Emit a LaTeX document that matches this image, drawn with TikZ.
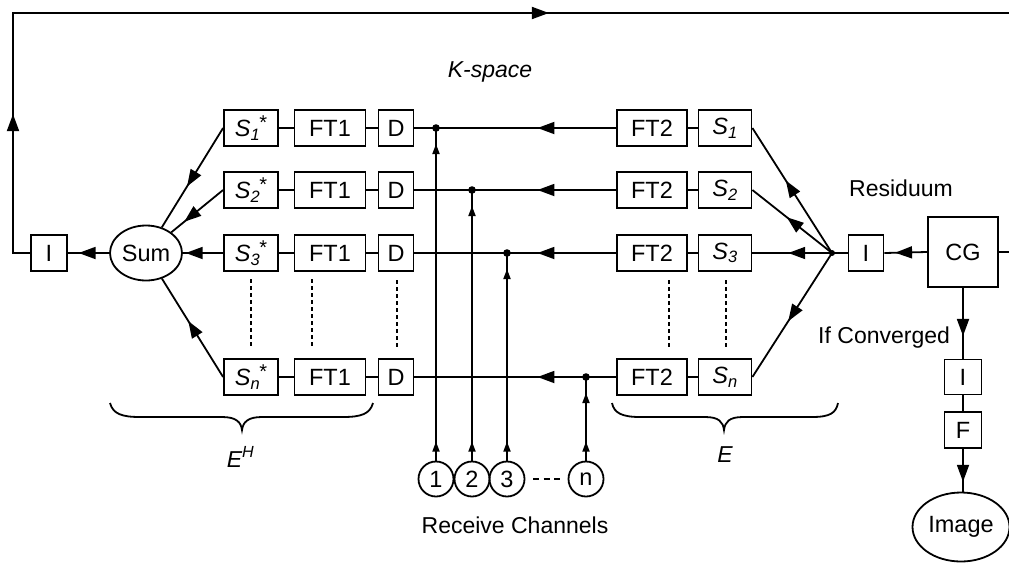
\documentclass[tikz,border=0pt]{standalone}
\usepackage{fontspec}
\setmainfont{Liberation Sans}
\usetikzlibrary{arrows.meta,decorations.markings,shapes.geometric}
\tikzset{
  box/.style={draw,rectangle,minimum width=#1,minimum height=36pt,inner sep=0pt},
  box/.default=36pt,
  oval/.style={draw,ellipse,inner sep=0pt},
  chan/.style={draw,circle,minimum size=35pt,inner sep=0pt},
  marr/.style={postaction={decorate},decoration={markings,mark=at position #1 with {\arrow{Triangle[length=17pt,width=12pt]}}}},
  charr/.style={postaction={decorate},decoration={markings,
      mark=at position 19pt with {\arrow{Triangle[length=10pt,width=7pt]}},
      mark=at position -16pt with {\arrow{Triangle[length=10pt,width=7pt]}}}},
  dsh/.style={line width=1.2pt,dash pattern=on 4pt off 3pt},
  lbl/.style={font=\fontsize{23}{27}\selectfont},
}
\newcommand{\stm}{\raisebox{0.55ex}{\normalfont\fontsize{20}{20}\selectfont *}}
\begin{document}
\begin{tikzpicture}[x=1pt,y=-1pt,line width=1.8pt,
  every node/.style={font=\fontsize{23.5}{27}\selectfont}]
\useasboundingbox (0,0) rectangle (1009,563);

% ---- left (E^H) column and right (E) column
\foreach \r/\y in {1/128,2/190,3/253,n/377}{
  \node[box=54pt] (Sc\r) at (251,\y) {\itshape S\textsubscript{\r}\kern-1pt\stm};
  \node[box=71pt] (FTa\r) at (330,\y) {FT1};
  \node[box=35pt] (D\r) at (396,\y) {D};
  \node[box=70pt] (FTb\r) at (652,\y) {FT2};
  \node[box=53pt] (S\r) at (725,\y) {\itshape S\textsubscript{\r}};
  \draw (Sc\r.east) -- (FTa\r.west);
  \draw (FTa\r.east) -- (D\r.west);
  \draw (FTb\r.east) -- (S\r.west);
  \draw[marr=0.39] (FTb\r.west) -- (D\r.east);
}

% dashed continuation lines
\draw[dsh] (251,279) -- (251,346);
\draw[dsh] (312,279) -- (312,346);
\draw[dsh] (397,280) -- (397,347);
\draw[dsh] (669,280) -- (669,347);
\draw[dsh] (726,280) -- (726,347);

% Sum and left I
\node[oval,minimum width=72pt,minimum height=55pt] (Sum) at (146,253) {Sum};
\node[box=36pt] (Il) at (49,253) {I};
\draw[marr=0.74] (Sum.west) -- (Il.east);
\draw[marr=0.93] (Sc3.west) -- (Sum.east);
\draw[marr=0.59] (Sc1.west) -- (Sum);
\draw[marr=0.75] (Sc2.west) -- (Sum);
\draw[marr=0.57] (Scn.west) -- (Sum);

% right side: fan, I, CG
\coordinate (fan) at (832,253);
\fill (fan) circle (3pt);
\node[box=35pt] (Ir) at (866,253) {I};
\node[box=70pt,minimum height=70pt] (CG) at (963,252) {CG};
\draw[marr=0.75] (CG.west) -- (Ir.east);
\draw (Ir.west) -- (fan);
\draw[marr=0.58] (fan) -- (S1.east);
\draw[marr=0.57] (fan) -- (S2.east);
\draw[marr=0.55] (fan) -- (S3.east);
\draw[marr=0.55] (fan) -- (Sn.east);

% feedback loop
\coordinate (lb) at (13,253);
\coordinate (lt) at (13,13);
\coordinate (rt) at (1009,13);
\coordinate (re) at (1009,252);
\draw[postaction={decorate},decoration={markings,
   mark=at position 156pt with {\arrow{Triangle[length=17pt,width=12pt]}},
   mark=at position 793pt with {\arrow{Triangle[length=17pt,width=12pt]}}}]
   (Il.west) -- (lb) -- (lt) -- (rt);
\draw (CG.east) -- (re);

% converged branch
\node[box=37pt,minimum height=35pt] (Ib) at (963,377) {I};
\node[box=37pt] (F) at (963,430) {F};
\node[oval,minimum width=97pt,minimum height=69pt] (Img) at (961,527) {Image};
\draw[marr=0.68] (CG.south) -- (Ib.north);
\draw (Ib.south) -- (F.north);
\draw[marr=0.77] (F.south) -- (F.south |- Img.north);

% receive channels
\node[chan] (c1) at (436,479) {1};
\node[chan] (c2) at (472,479) {2};
\node[chan] (c3) at (507,479) {3};
\node[chan] (cn) at (586,479) {n};
\coordinate (dl) at (533,479);
\coordinate (dr) at (561,479);
\draw[line width=1.4pt,dash pattern=on 6pt off 4.5pt] (dl) -- (dr);
\coordinate (j1) at (c1 |- D1.east);
\coordinate (j2) at (c2 |- D2.east);
\coordinate (j3) at (c3 |- D3.east);
\coordinate (jn) at (cn |- Dn.east);
\foreach \k in {1,2,3,n}{
  \draw[charr] (c\k) -- (j\k);
  \fill (j\k) circle (3.8pt);
}

% braces
\draw (110,403) .. controls (113,414) and (122,417) .. (140,417) -- (222,417)
  .. controls (236,417) and (241,422) .. (242,430)
  .. controls (243,422) and (248,417) .. (262,417) -- (343,417)
  .. controls (361,417) and (370,414) .. (373,403);
\draw (612,403) .. controls (614,413) and (622,417) .. (640,417) -- (705,417)
  .. controls (719,417) and (723,422) .. (724,430)
  .. controls (725,422) and (729,417) .. (743,417) -- (812,417)
  .. controls (830,417) and (836,413) .. (838,403);

% labels
\node[lbl,anchor=base] (ks) at (490,77) {\itshape K-space};
\node[lbl,anchor=base] (res) at (901,196) {Residuum};
\node[lbl,anchor=base west] (ifc) at (814,343) {If Converged};
\node[lbl,anchor=base] (rc) at (515,533) {Receive Channels};
\node[lbl,anchor=base west,inner sep=0pt] (eh) at (226,467) {\itshape E\textsuperscript{H}};
\node[lbl,anchor=base] (e) at (725,462) {\itshape E};
\end{tikzpicture}
\end{document}
